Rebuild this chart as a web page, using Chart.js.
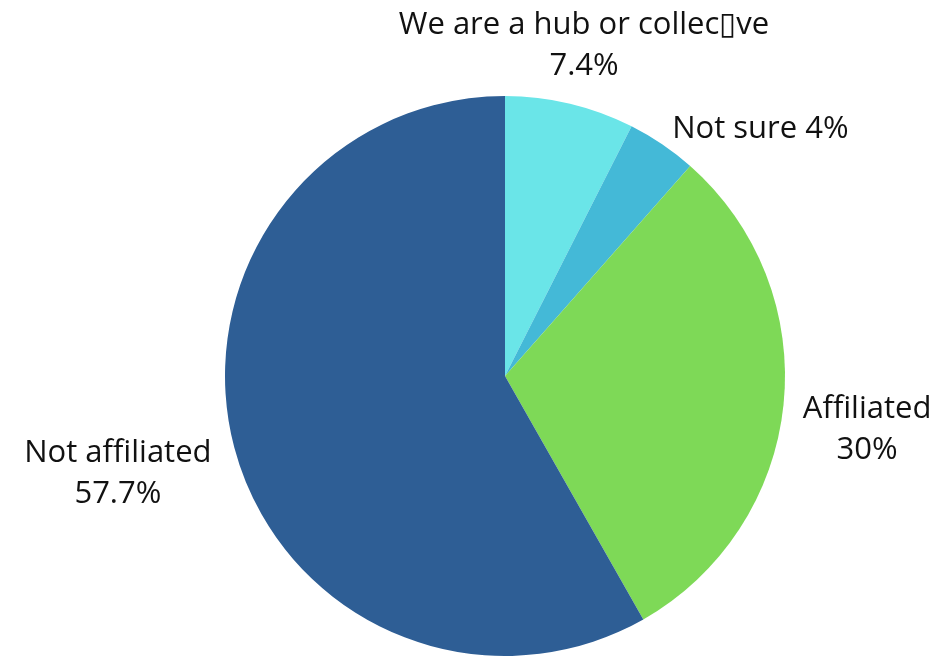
<!DOCTYPE html>
<html>
<head>
<meta charset="utf-8">
<script src="https://cdn.jsdelivr.net/npm/chart.js@4.4.0/dist/chart.umd.min.js"></script>
<style>
  html, body { margin: 0; padding: 0; background: #fff; }
  #wrap { width: 950px; height: 656px; position: relative; }
</style>
</head>
<body>
<div id="wrap"><canvas id="chart_pie"></canvas></div>
<script>
// Data
const categories = ['We are a hub or collec\u25AFve', 'Not sure', 'Affiliated', 'Not affiliated'];
const shares = [7.4, 4, 30, 57.7];
const labelText = ['7.4%', '4%', '30%', '57.7%'];
const sliceColors = ['#6ae5e8', '#44b9d7', '#7ed957', '#2e5e95'];

// label placement: radial distance (x radius), alignment, nudge, single line or two lines
const labelPlace = [
  { k: 1.214, align: 'center', dy: 0, inline: false },
  { k: 1.064, align: 'left', dy: 0, inline: true },
  { k: 1.30, align: 'center', dy: 16, inline: false },
  { k: 1.43, align: 'center', dy: -5, inline: false },
];

const outsideLabels = {
  id: 'outsideLabels',
  afterDatasetsDraw(chart) {
    const { ctx } = chart;
    const arcs = chart.getDatasetMeta(0).data;
    ctx.save();
    ctx.fillStyle = '#111';
    ctx.font = '31px "Open Sans", Lato, sans-serif';
    ctx.textBaseline = 'middle';
    arcs.forEach((arc, i) => {
      const p = labelPlace[i];
      const mid = (arc.startAngle + arc.endAngle) / 2;
      const d = arc.outerRadius * p.k;
      const x = arc.x + Math.cos(mid) * d;
      const y = arc.y + Math.sin(mid) * d + p.dy;
      ctx.textAlign = p.align;
      const lines = p.inline ? [categories[i] + ' ' + labelText[i]] : [categories[i], labelText[i]];
      const lh = 41;
      lines.forEach((t, j) => {
        ctx.fillText(t, x, y + (j - (lines.length - 1) / 2) * lh);
      });
    });
    ctx.restore();
  }
};

new Chart(document.getElementById('chart_pie'), {
  type: 'pie',
  data: {
    labels: categories,
    datasets: [{
      data: shares,
      backgroundColor: sliceColors,
      borderWidth: 0,
    }],
  },
  options: {
    responsive: true,
    maintainAspectRatio: false,
    animation: false,
    layout: { padding: { top: 96, bottom: 0, left: 60, right: 0 } },
    plugins: {
      legend: { display: false },
      tooltip: { enabled: false },
    },
  },
  plugins: [outsideLabels],
});
</script>
</body>
</html>
